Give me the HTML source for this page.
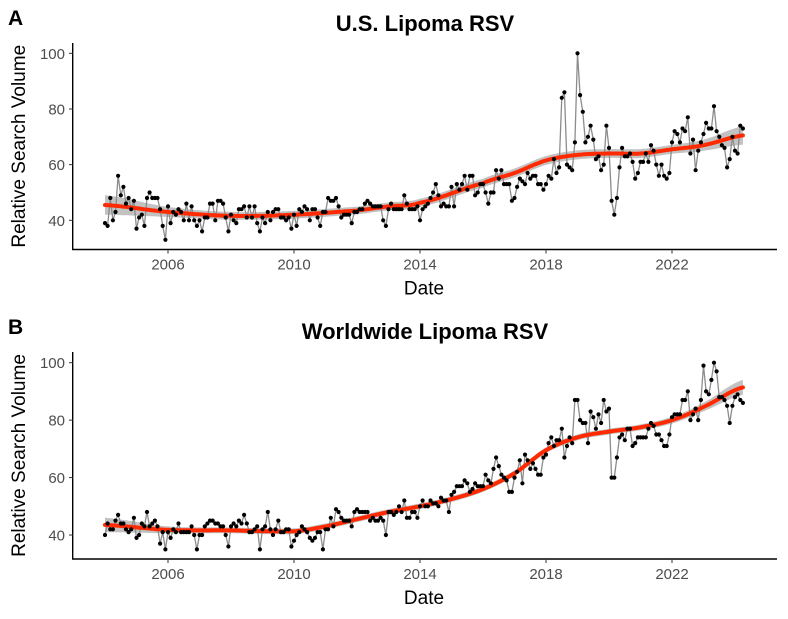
<!DOCTYPE html>
<html><head><meta charset="utf-8"><style>
html,body{margin:0;padding:0;background:#fff;}
svg{display:block;font-family:"Liberation Sans",Arial,sans-serif;}
</style></head>
<body>
<svg id="chart" width="788" height="619" viewBox="0 0 788 619" xmlns="http://www.w3.org/2000/svg">
<rect width="788" height="619" fill="#fff"/>
<text x="8" y="25" font-size="21" font-weight="bold">A</text>
<text x="425" y="31" font-size="22" font-weight="bold" text-anchor="middle">U.S. Lipoma RSV</text>
<text x="8" y="334" font-size="21" font-weight="bold">B</text>
<text x="425" y="339" font-size="22" font-weight="bold" text-anchor="middle">Worldwide Lipoma RSV</text>
<g id="pa"></g>
<g id="pb"></g>
</svg>
<script>
const yTicks = [40, 60, 80, 100];
const xTickYears = [2006, 2010, 2014, 2018, 2022];
const xTickLabels = ["2006", "2010", "2014", "2018", "2022"];
const startYear = 2004;
const usValues = [39,38,48,40,43,56,49,52,46,48,44,47,37,41,42,38,48,50,48,48,48,44,38,33,45,39,43,42,44,43,40,46,40,45,40,38,40,36,41,41,46,46,40,47,47,46,41,36,42,40,39,44,44,45,41,45,41,45,39,36,41,39,43,40,43,44,44,41,41,40,41,37,42,38,44,43,45,44,40,44,44,41,38,43,43,48,47,47,48,45,41,42,42,42,39,43,43,44,44,46,47,46,45,45,45,
45,40,38,
44,46,44,44,44,44,49,46,44,44,44,45,
40,44,45,46,48,50,53,49,45,46,45,45,
52,45,53,51,53,56,51,56,56,49,50,53,
53,50,46,50,50,58,55,58,53,53,53,47,
48,52,55,54,53,57,55,56,56,53,53,51,
53,56,55,62,57,59,84,86,60,59,58,68,
100,85,79,68,
70,74,69,62,63,58,60,74,66,47,42,48,59,66,63,63,64,61,55,57,61,61,64,61,67,65,60,56,60,56,55,57,68,72,71,68,73,72,77,64,69,58,65,68,71,75,73,73,81,72,70,67,66,59,62,70,65,64,74,73];
const wwValues = [40,44,42,42,45,47,44,44,42,41,42,46,39,40,44,43,48,43,44,45,43,37,41,35,41,39,42,41,44,41,41,41,41,43,40,35,40,40,43,44,45,45,44,44,43,43,40,36,43,44,43,45,44,47,44,41,41,42,43,35,42,43,48,42,40,42,45,41,41,42,42,36,38,40,41,43,42,41,39,38,39,41,41,35,42,42,46,43,49,48,46,45,45,45,43,48,49,48,48,48,48,45,46,45,45,
46,45,40,48,48,47,48,50,48,52,46,46,48,48,46,50,52,50,50,52,51,51,50,53,52,52,48,54,55,57,57,57,59,58,55,56,58,57,57,57,61,59,58,63,67,64,61,60,59,55,55,60,62,66,58,68,66,63,65,63,61,61,67,68,72,74,71,73,73,77,67,71,74,72,87,87,80,79,79,72,83,81,77,82,79,87,83,84,60,60,67,74,75,73,77,77,71,72,
74,74,74,74,77,79,78,75,75,73,71,71,75,81,82,82,82,87,87,90,80,82,84,80,87,99,90,89,94,100,97,88,88,87,85,79,85,88,89,87,86];
const usSmoothYears = [2004,2006,2008,2010,2012,2013,2014,2016,2017,2018,2019,2020,2021,2022,2023,2024.25];
const usSmoothValues = [45.5,43,41.6,42,43.5,45,46.3,53.3,57,61.5,63.5,64,64,65.5,67,70.5];
const usBandHalf = [3.5,1.8,1.4,1.4,1.4,1.4,1.5,1.6,1.6,1.6,1.6,1.6,1.6,1.6,2,3.3];
const wwSmoothYears = [2004,2006,2008,2010,2011,2012,2013,2014,2015,2016,2017,2018,2019,2020,2021,2022,2023,2024.25];
const wwSmoothValues = [43.5,41.8,41.6,41.3,43,45.5,48,50,52.5,56,61.5,69.5,74,76,77.5,80,84.6,91.4];
const wwBandHalf = [2.5,1.2,1,1,1,1,1,1,1,1,1,1,1,1,1,1.2,1.5,2.6];

const NS = "http://www.w3.org/2000/svg";
function mk(tag, attrs, parent){const e=document.createElementNS(NS,tag);for(const k in attrs)e.setAttribute(k,attrs[k]);parent.appendChild(e);return e;}
function catmull(xs, ys, t){
  let i=0; while(i<xs.length-2 && t>xs[i+1]) i++;
  const p0=ys[Math.max(i-1,0)],p1=ys[i],p2=ys[i+1],p3=ys[Math.min(i+2,ys.length-1)];
  const u=(t-xs[i])/(xs[i+1]-xs[i]);
  return 0.5*((2*p1)+(-p0+p2)*u+(2*p0-5*p1+4*p2-p3)*u*u+(-p0+3*p1-3*p2+p3)*u*u*u);
}
function drawPanel(g, cfg, values, sYears, sVals, band){
  const xS = t => 168 + (t-2006)*31.5;
  const yS = v => cfg.y40 - (v-40)*cfg.k;
  // band + smooth
  const t0=startYear, t1=startYear+(values.length-1)/12;
  let up=[],lo=[],mid=[];
  for(let t=t0;t<=t1+1e-9;t+=0.05){
    const m=catmull(sYears,sVals,t), h=catmull(sYears,band,t);
    up.push(xS(t).toFixed(1)+","+yS(m+h).toFixed(1));
    lo.push(xS(t).toFixed(1)+","+yS(m-h).toFixed(1));
    mid.push(xS(t).toFixed(1)+","+yS(m).toFixed(1));
  }
  const bandEl = mk("polygon",{points:up.concat(lo.reverse()).join(" "),fill:"#999",opacity:"0.6"},g);
  
  
  // raw line
  const pts = values.map((v,i)=>xS(startYear+i/12).toFixed(1)+","+yS(v).toFixed(1)).join(" ");
  const ln = mk("polyline",{points:pts,fill:"none",stroke:"#8c8c8c","stroke-width":"1.3"},g);
  
  
  const sm = mk("polyline",{points:mid.join(" "),fill:"none",stroke:"#ff2a00","stroke-width":"4","stroke-linecap":"round"},g);
  
  
  values.forEach((v,i)=>{
    const c = mk("circle",{cx:xS(startYear+i/12).toFixed(1),cy:yS(v).toFixed(1),r:"2.1",fill:"#000"},g);
    
    
  });
  // axes
  const ya = mk("line",{x1:72.7,y1:cfg.top,x2:72.7,y2:cfg.axisY,stroke:"#000","stroke-width":"1.4"},g);
  
  
  const xa = mk("line",{x1:72,y1:cfg.axisY,x2:777,y2:cfg.axisY,stroke:"#000","stroke-width":"1.4"},g);
  
  
  yTicks.forEach(v=>{
    const tk = mk("line",{x1:69,y1:yS(v),x2:72.7,y2:yS(v),stroke:"#333","stroke-width":"1"},g);
    
    
    const tl = mk("text",{x:65,y:yS(v)+5.5,"font-size":"15","text-anchor":"end",fill:"#4d4d4d"},g);
    tl.textContent = v;
    
    
  });
  xTickYears.forEach((yr,i)=>{
    const tk = mk("line",{x1:xS(yr),y1:cfg.axisY,x2:xS(yr),y2:cfg.axisY+4,stroke:"#333","stroke-width":"1"},g);
    
    
    const tl = mk("text",{x:xS(yr),y:cfg.axisY+20,"font-size":"15","text-anchor":"middle",fill:"#4d4d4d"},g);
    tl.textContent = xTickLabels[i];
    
    
  });
  const xt = mk("text",{x:424,y:cfg.axisY+45,"font-size":"19","text-anchor":"middle"},g);
  xt.textContent = "Date";
  
  
  const cy=(cfg.top+cfg.axisY)/2;
  const yt = mk("text",{x:0,y:0,"font-size":"19","text-anchor":"middle",transform:"translate(25,"+cy+") rotate(-90)"},g);
  yt.textContent = "Relative Search Volume";
  
  
}
drawPanel(document.getElementById("pa"),{y40:220.3,k:2.783,axisY:249.5,top:43},usValues,usSmoothYears,usSmoothValues,usBandHalf);
drawPanel(document.getElementById("pb"),{y40:535,k:2.872,axisY:559,top:352},wwValues,wwSmoothYears,wwSmoothValues,wwBandHalf);
</script>
</body></html>
